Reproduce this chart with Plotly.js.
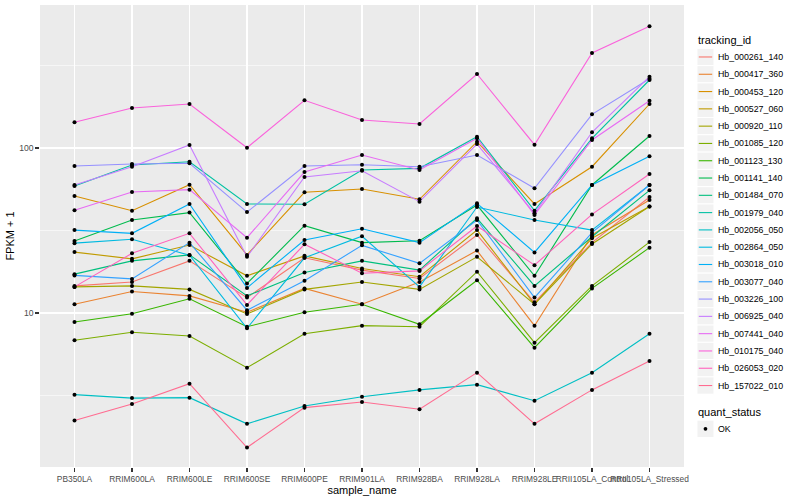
<!DOCTYPE html>
<html><head><meta charset="utf-8">
<script src="https://cdn.plot.ly/plotly-3.0.1.min.js"></script>
<style>html,body{margin:0;padding:0;background:#fff}#chart{width:800px;height:500px}</style>
</head><body><div id="chart"></div>
<script>
// ---- data ----
const categories = ['PB350LA','RRIM600LA','RRIM600LE','RRIM600SE','RRIM600PE','RRIM901LA','RRIM928BA','RRIM928LA','RRIM928LE','RRII105LA_Control','RRII105LA_Stressed'];
const trackingIds = ['Hb_000261_140','Hb_000417_360','Hb_000453_120','Hb_000527_060','Hb_000920_110','Hb_001085_120','Hb_001123_130','Hb_001141_140','Hb_001484_070','Hb_001979_040','Hb_002056_050','Hb_002864_050','Hb_003018_010','Hb_003077_040','Hb_003226_100','Hb_006925_040','Hb_007441_040','Hb_010175_040','Hb_026053_020','Hb_157022_010'];
const seriesColors = ['#F8766D','#EA8331','#D89000','#C09B00','#A3A500','#7CAE00','#39B600','#00BB4E','#00BF7D','#00C1A3','#00BFC4','#00BAE0','#00B0F6','#35A2FF','#9590FF','#C77CFF','#E76BF3','#FA62DB','#FF62BC','#FF6C91'];

// FPKM + 1 per sample, in the order of categories
const Hb_000261_140 = [14.6, 15.4, 20.7, 12.4, 21.6, 18.2, 16.2, 29.7, 11.6, 26.7, 50.5];
const Hb_000417_360 = [11.3, 13.5, 12.7, 10.1, 14.1, 11.3, 15.4, 23.9, 8.38, 29.7, 48.4];
const Hb_000453_120 = [51.2, 41.7, 59.9, 22.5, 53.9, 56.4, 48.9, 109.2, 45.8, 77.0, 184.8];
const Hb_000527_060 = [23.4, 21.3, 25.8, 16.8, 22.2, 18.6, 16.6, 31.8, 11.3, 28.4, 44.2];
const Hb_000920_110 = [14.4, 14.6, 13.9, 9.86, 13.9, 15.4, 13.9, 21.9, 11.3, 26.2, 44.2];
const Hb_001085_120 = [6.83, 7.64, 7.25, 4.66, 7.49, 8.38, 8.26, 17.8, 6.61, 14.6, 26.9];
const Hb_001123_130 = [8.82, 9.90, 12.2, 8.26, 10.1, 11.3, 8.54, 15.8, 6.16, 14.1, 24.9];
const Hb_001141_140 = [27.3, 36.6, 40.6, 15.1, 33.8, 26.7, 27.4, 45.1, 16.8, 59.7, 118.2];
const Hb_001484_070 = [17.2, 20.7, 22.5, 12.7, 17.6, 20.7, 18.2, 37.5, 14.6, 29.0, 55.4];
const Hb_001979_040 = [58.8, 78.9, 82.6, 45.8, 45.6, 73.6, 75.3, 117.1, 41.7, 114.5, 258.3];
const Hb_002056_050 = [3.20, 3.05, 3.07, 2.13, 2.73, 3.11, 3.42, 3.68, 2.94, 4.35, 7.49];
const Hb_002864_050 = [26.5, 28.0, 22.4, 8.08, 21.6, 29.2, 14.4, 43.9, 36.6, 31.8, 59.7];
const Hb_003018_010 = [31.8, 30.4, 45.8, 14.2, 27.7, 32.4, 26.7, 46.2, 23.3, 59.7, 89.1];
const Hb_003077_040 = [16.9, 16.1, 26.7, 10.4, 15.7, 25.7, 20.0, 36.6, 12.4, 30.7, 59.7];
const Hb_003226_100 = [77.8, 80.0, 80.8, 40.9, 77.8, 79.2, 77.0, 90.7, 57.0, 160.0, 263.0];
const Hb_006925_040 = [59.7, 77.0, 104.3, 21.9, 66.7, 72.8, 47.3, 105.7, 40.2, 124.5, 270.5];
const Hb_007441_040 = [41.9, 54.1, 55.9, 28.6, 71.5, 90.7, 73.6, 114.5, 39.3, 111.8, 193.5];
const Hb_010175_040 = [143.2, 174.8, 184.8, 100.4, 194.6, 147.8, 139.8, 280.9, 104.7, 376.5, 546.5];
const Hb_026053_020 = [14.4, 23.0, 30.4, 11.2, 26.1, 17.4, 18.0, 33.7, 19.5, 39.6, 69.6];
const Hb_157022_010 = [2.23, 2.81, 3.73, 1.53, 2.67, 2.89, 2.61, 4.35, 2.13, 3.42, 5.12];

const seriesValues = [Hb_000261_140,Hb_000417_360,Hb_000453_120,Hb_000527_060,Hb_000920_110,Hb_001085_120,Hb_001123_130,Hb_001141_140,Hb_001484_070,Hb_001979_040,Hb_002056_050,Hb_002864_050,Hb_003018_010,Hb_003077_040,Hb_003226_100,Hb_006925_040,Hb_007441_040,Hb_010175_040,Hb_026053_020,Hb_157022_010];
const quantStatus = ['OK'];
const yTickVals = [10, 100];
const yTickLabels = ['10', '100'];

// ---- geometry (pixels) ----
const W = 800, H = 500;
const PL = 39.5, PR = 684, PT = 5.3, PB = 467.5;
const px2x = p => (p - PL) / (PR - PL);
const px2y = p => (PB - p) / (PB - PT);
const FONT = 'Liberation Sans, Arial, Helvetica, sans-serif';

// ---- traces ----
const traces = [];
seriesValues.forEach((vals, i) => {
  traces.push({
    type: 'scatter', mode: 'lines', name: trackingIds[i],
    x: categories, y: vals,
    line: { color: seriesColors[i], width: 1.1 },
    hoverinfo: 'skip', showlegend: false
  });
});
const allX = [], allY = [];
seriesValues.forEach(vals => vals.forEach((v, j) => { allX.push(categories[j]); allY.push(v); }));
traces.push({
  type: 'scatter', mode: 'markers', name: quantStatus[0],
  x: allX, y: allY,
  marker: { color: 'black', size: 4, symbol: 'circle' },
  hoverinfo: 'skip', showlegend: false
});

// ---- hand-made ggplot style legend ----
const shapes = [], annotations = [];
const keyL = 697, keyR = 714, step = 17.3, firstY = 57.3;
annotations.push({ xref:'paper', yref:'paper', x:px2x(696), y:px2y(40.7), xanchor:'left', yanchor:'middle',
  text:'tracking_id', showarrow:false, font:{ family:FONT, size:11, color:'black' } });
trackingIds.forEach((id, i) => {
  const cy = firstY + i * step;
  shapes.push({ type:'rect', xref:'paper', yref:'paper', x0:px2x(keyL), x1:px2x(keyR), y0:px2y(cy - step/2), y1:px2y(cy + step/2),
    fillcolor:'#F2F2F2', line:{ color:'white', width:1 } });
  shapes.push({ type:'line', xref:'paper', yref:'paper', x0:px2x(keyL + 1.8), x1:px2x(keyR - 1.8), y0:px2y(cy), y1:px2y(cy),
    line:{ color:seriesColors[i], width:1.1 } });
  annotations.push({ xref:'paper', yref:'paper', x:px2x(716.5), y:px2y(cy), xanchor:'left', yanchor:'middle',
    text:id, showarrow:false, font:{ family:FONT, size:8.8, color:'black' } });
});
annotations.push({ xref:'paper', yref:'paper', x:px2x(696), y:px2y(412.7), xanchor:'left', yanchor:'middle',
  text:'quant_status', showarrow:false, font:{ family:FONT, size:11, color:'black' } });
const okY = 429.3;
shapes.push({ type:'rect', xref:'paper', yref:'paper', x0:px2x(keyL), x1:px2x(keyR), y0:px2y(okY - step/2), y1:px2y(okY + step/2),
  fillcolor:'#F2F2F2', line:{ color:'white', width:1 } });
shapes.push({ type:'circle', xref:'paper', yref:'paper', x0:px2x(703.6), x1:px2x(707.4), y0:px2y(okY - 1.9), y1:px2y(okY + 1.9),
  fillcolor:'black', line:{ color:'black', width:0 } });
annotations.push({ xref:'paper', yref:'paper', x:px2x(716.5), y:px2y(okY), xanchor:'left', yanchor:'middle',
  text:quantStatus[0], showarrow:false, font:{ family:FONT, size:8.8, color:'black' } });

const layout = {
  width: W, height: H,
  margin: { l: PL, r: W - PR, t: PT, b: H - PB, pad: 0 },
  paper_bgcolor: 'white', plot_bgcolor: '#EBEBEB',
  font: { family: FONT, size: 8.8, color: '#4D4D4D' },
  showlegend: false,
  xaxis: {
    type: 'category', categoryorder: 'array', categoryarray: categories, range: [-0.6, 10.6],
    showgrid: true, gridcolor: 'white', gridwidth: 1.1,
    ticks: 'outside', ticklen: 3.7, tickwidth: 1.1, tickcolor: '#333333', tickangle: 0,
    tickfont: { family: FONT, size: 8.4, color: '#4D4D4D' },
    zeroline: false, showline: false, automargin: false, fixedrange: true,
    title: { text: 'sample_name', font: { family: FONT, size: 11, color: 'black' }, standoff: 3 }
  },
  yaxis: {
    type: 'log', range: [0.0667, 2.8667],
    tickmode: 'array', tickvals: yTickVals, ticktext: yTickLabels,
    showgrid: true, gridcolor: 'white', gridwidth: 1.1,
    ticks: 'outside', ticklen: 3.7, tickwidth: 1.1, tickcolor: '#333333',
    tickfont: { family: FONT, size: 8.6, color: '#4D4D4D' },
    minor: { tickmode: 'array', tickvals: [3.1623, 31.623, 316.23], showgrid: true, gridcolor: 'white', gridwidth: 0.55, ticks: '' },
    zeroline: false, showline: false, automargin: false, fixedrange: true,
    title: { text: 'FPKM + 1', font: { family: FONT, size: 11, color: 'black' }, standoff: 2 }
  },
  shapes: shapes,
  annotations: annotations
};

Plotly.newPlot('chart', traces, layout, { staticPlot: true, displayModeBar: false });
</script>
</body></html>
